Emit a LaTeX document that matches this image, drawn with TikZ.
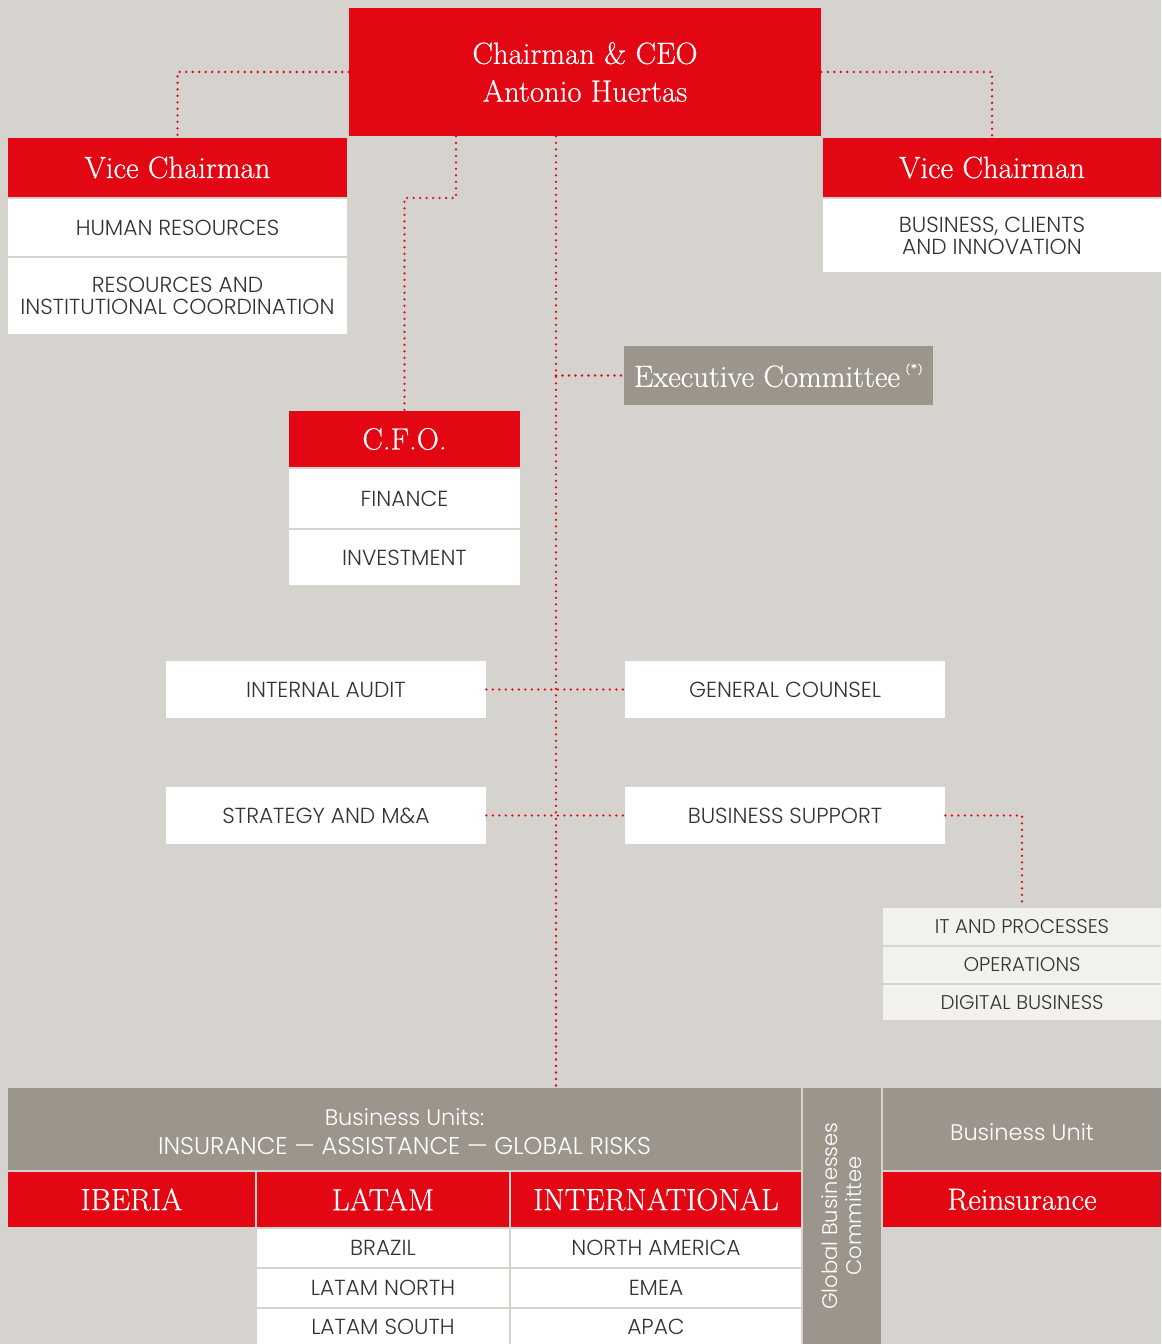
\documentclass[tikz,border=0pt]{standalone}
\usepackage{fontspec}
\newfontfamily\bodyfont{Poppins Light}
\newfontfamily\headfont[UprightFeatures={FakeBold=0.6}]{Latin Modern Roman}
\usetikzlibrary{positioning}
\definecolor{mapred}{HTML}{E30613}
\definecolor{mapgrey}{HTML}{9C958C}
\definecolor{paper}{HTML}{D6D3CE}
\definecolor{pale}{HTML}{F3F1ED}
\definecolor{ink}{HTML}{333333}
\tikzset{head/.style={shape=rectangle, fill=mapred, text=white, inner sep=0pt, align=center,
    font=\headfont\fontsize{17.5}{21.5}\selectfont}}
\tikzset{unit/.style={shape=rectangle, fill=white, text=ink, inner sep=0pt, align=center,
    font=\bodyfont\fontsize{12.4}{12.5}\selectfont}}
\tikzset{pane/.style={unit, fill=pale, font=\bodyfont\fontsize{11.3}{12}\selectfont}}
\tikzset{committee/.style={shape=rectangle, fill=mapgrey, text=white, inner sep=0pt, align=center}}
\tikzset{link/.style={draw=mapred, line width=1.5pt, line cap=round, dash pattern=on 0pt off 3.7pt}}

\begin{document}
\begin{tikzpicture}[x=0.02cm, y=-0.02cm]
    \useasboundingbox (0,0) rectangle (1161,1344);
    \path[fill=paper] (0,0) rectangle (1161,1344);

    % top of the chart
    \node(ceo)[head] [minimum width=9.44cm, minimum height=2.56cm] at (585,72) {Chairman \& CEO\\Antonio Huertas};
    \node(vcl)[head] [minimum width=6.78cm, minimum height=1.18cm] at (177.5,167.5) {Vice Chairman};
    \node(hr)[unit] [minimum width=6.78cm, minimum height=1.14cm] at (177.5,227.5) {HUMAN RESOURCES};
    \node(ric)[unit] [minimum width=6.78cm, minimum height=1.52cm] at (177.5,296) {RESOURCES AND\\INSTITUTIONAL COORDINATION};
    \node(vcr)[head] [minimum width=6.76cm, minimum height=1.18cm] at (992,167.5) {Vice Chairman};
    \node(bci)[unit] [minimum width=6.76cm, minimum height=1.46cm] at (992,235.5) {BUSINESS, CLIENTS\\AND INNOVATION};

    \node(exec)[committee] [minimum width=6.18cm, minimum height=1.18cm, font=\headfont\fontsize{17.5}{19}\selectfont] at (778.5,375.5)
        {Executive Committee\,\raisebox{1.1ex}{\fontsize{6.5}{6.5}\selectfont(*)}};

    \node(cfo)[head] [minimum width=4.62cm, minimum height=1.12cm] at (404.5,439) {C.F.O.};
    \node(fin)[unit] [minimum width=4.62cm, minimum height=1.18cm] at (404.5,498.5) {FINANCE};
    \node(inv)[unit] [minimum width=4.62cm, minimum height=1.10cm] at (404.5,557.5) {INVESTMENT};

    \node(audit)[unit] [minimum width=6.4cm, minimum height=1.14cm] at (326,689.5) {INTERNAL AUDIT};
    \node(counsel)[unit] [minimum width=6.4cm, minimum height=1.14cm] at (785,689.5) {GENERAL COUNSEL};
    \node(strat)[unit] [minimum width=6.4cm, minimum height=1.14cm] at (326,815.5) {STRATEGY AND M\&A};
    \node(support)[unit] [minimum width=6.4cm, minimum height=1.14cm] at (785,815.5) {BUSINESS SUPPORT};

    \node(itp)[pane] [minimum width=5.56cm, minimum height=0.74cm] at (1022,926.5) {IT AND PROCESSES};
    \node(ops)[pane] [minimum width=5.56cm, minimum height=0.72cm] at (1022,965) {OPERATIONS};
    \node(dig)[pane] [minimum width=5.56cm, minimum height=0.70cm] at (1022,1002.5) {DIGITAL BUSINESS};

    % business units
    \node(bu)[committee] [minimum width=15.86cm, minimum height=1.64cm] at (404.5,1129) {};
    \node(butext) [text=white, align=center, font=\bodyfont\fontsize{12.8}{16.5}\selectfont] at (404.5,1132)
        {Business Units:\\{\fontsize{13.8}{16.5}\selectfont INSURANCE\ —\ ASSISTANCE\ —\ GLOBAL RISKS}};
    \node(iberia)[head] [minimum width=4.94cm, minimum height=1.10cm] at (131.5,1199.5) {IBERIA};
    \node(latam)[head] [minimum width=5.04cm, minimum height=1.10cm] at (383,1199.5) {LATAM};
    \node(intl)[head] [minimum width=5.80cm, minimum height=1.10cm] at (656,1199.5) {INTERNATIONAL};
    \node(brazil)[unit] [minimum width=5.04cm, minimum height=0.76cm] at (383,1248) {BRAZIL};
    \node(lnorth)[unit] [minimum width=5.04cm, minimum height=0.76cm] at (383,1288) {LATAM NORTH};
    \node(lsouth)[unit] [minimum width=5.04cm, minimum height=0.70cm] at (383,1326.5) {LATAM SOUTH};
    \node(namer)[unit] [minimum width=5.80cm, minimum height=0.76cm] at (656,1248) {NORTH AMERICA};
    \node(emea)[unit] [minimum width=5.80cm, minimum height=0.76cm] at (656,1288) {EMEA};
    \node(apac)[unit] [minimum width=5.80cm, minimum height=0.70cm] at (656,1326.5) {APAC};
    \node(gbc)[committee] [minimum width=1.56cm, minimum height=5.12cm] at (842,1216) {};
    \node(gbctext) [rotate=90, text=white, align=center, font=\bodyfont\fontsize{12}{13.5}\selectfont] at (gbc.center)
        {Global Businesses\\Committee};
    \node(bunit)[committee] [minimum width=5.56cm, minimum height=1.64cm, font=\bodyfont\fontsize{12.8}{15}\selectfont] at (1022,1129) {};
    \node(bunittext) [text=white, font=\bodyfont\fontsize{12.8}{15}\selectfont] at (1022,1132) {Business Unit};
    \node(reins)[head] [minimum width=5.56cm, minimum height=1.10cm] at (1022,1199.5) {Reinsurance};

    % dotted reporting lines
    \coordinate(spine) at (556,0);
    \coordinate(cfobend) at (456,198);
    \draw[link] (ceo.west) -| (vcl.north);
    \draw[link] (ceo.east) -| (vcr.north);
    \draw[link] (ceo.south -| cfobend) -- (cfobend) -| (cfo.north);
    \draw[link] (ceo.south -| spine) -- (bu.north -| spine);
    \draw[link] (exec.west -| spine) -- (exec.west);
    \draw[link] (audit.east) -- (counsel.west);
    \draw[link] (strat.east) -- (support.west);
    \draw[link] (support.east) -| (itp.north);
\end{tikzpicture}
\end{document}
